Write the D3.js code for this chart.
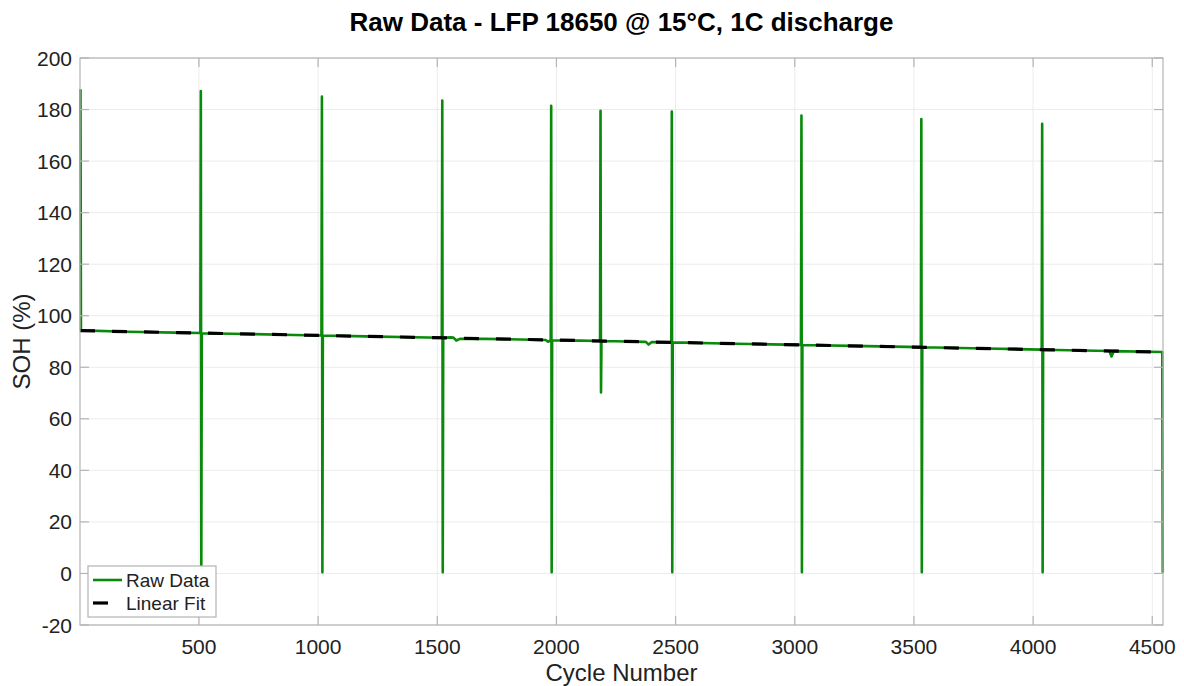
<!DOCTYPE html>
<html>
<head>
<meta charset="utf-8">
<script src="https://cdn.jsdelivr.net/npm/d3@7"></script>
<style>
  body { margin: 0; background: #fff; }
  svg { font-family: "Liberation Sans", Arial, Helvetica, sans-serif; }
</style>
</head>
<body>
<div id="chart"></div>
<script>
const rawCycle = [3, 5, 200, 400, 506, 508, 510, 512, 700, 900, 1014, 1016, 1018, 1020, 1200, 1400,
  1519, 1521, 1523, 1525, 1555, 1568, 1580, 1595, 1700, 1850, 1955, 1965, 1976, 1978, 1980, 1982,
  2100, 2183, 2185, 2187, 2189, 2300, 2375, 2387, 2400, 2482, 2484, 2486, 2488, 2700, 2900,
  3026, 3028, 3030, 3032, 3300, 3529, 3531, 3533, 3535, 3800, 4036, 4038, 4040, 4042,
  4320, 4329, 4338, 4542, 4544];
const rawSoh = [187.9, 94.3, 93.8, 93.45, 93.3, 187.2, 2.5, 93.2, 92.9, 92.55, 92.35, 185.0, 0.5, 92.3, 92.0, 91.65,
  91.45, 183.5, 0.5, 91.4, 91.6, 91.5, 90.4, 91.0, 91.0, 90.8, 90.6, 89.9, 90.5, 181.5, 0.5, 90.5,
  90.35, 90.2, 179.5, 70.2, 90.2, 90.0, 89.85, 88.8, 89.8, 89.7, 179.2, 0.5, 89.65, 89.25, 88.9,
  88.7, 177.7, 0.5, 88.65, 88.2, 87.8, 176.3, 0.5, 87.75, 87.3, 86.85, 174.5, 0.5, 86.8,
  86.3, 84.2, 86.25, 85.9, 0.3];

// linear fit end points
const fitCycle = [1, 4545];
const fitSoh = [94.2, 85.9];

const xTicks = [500, 1000, 1500, 2000, 2500, 3000, 3500, 4000, 4500];
const yTicks = [-20, 0, 20, 40, 60, 80, 100, 120, 140, 160, 180, 200];
const legendLabels = ['Raw Data', 'Linear Fit'];

const width = 1184, height = 686;
const margin = { top: 58, right: 21, bottom: 61, left: 80 };
const w = width - margin.left - margin.right;
const h = height - margin.top - margin.bottom;

const green = '#0a8a0a';
const boxColor = '#b4b4b4';
const gridColor = '#ececec';

const svg = d3.select('#chart').append('svg')
  .attr('width', width)
  .attr('height', height);

const g = svg.append('g')
  .attr('transform', `translate(${margin.left},${margin.top})`);

const x = d3.scaleLinear().domain([1, 4545]).range([0, w]);
const y = d3.scaleLinear().domain([-20, 200]).range([h, 0]);

// grid
g.append('g').selectAll('line').data(xTicks).enter().append('line')
  .attr('x1', d => x(d)).attr('x2', d => x(d))
  .attr('y1', 0).attr('y2', h)
  .attr('stroke', gridColor).attr('stroke-width', 1);
g.append('g').selectAll('line').data(yTicks).enter().append('line')
  .attr('x1', 0).attr('x2', w)
  .attr('y1', d => y(d)).attr('y2', d => y(d))
  .attr('stroke', gridColor).attr('stroke-width', 1);

g.append('clipPath').attr('id', 'clip')
  .append('rect').attr('x', -2).attr('y', 0).attr('width', w + 4).attr('height', h);

const plot = g.append('g').attr('clip-path', 'url(#clip)');

const raw = rawCycle.map((c, i) => [c, rawSoh[i]]);
const fit = fitCycle.map((c, i) => [c, fitSoh[i]]);

const line = d3.line().x(d => x(d[0])).y(d => y(d[1]));

plot.append('path')
  .datum(raw)
  .attr('d', line)
  .attr('fill', 'none')
  .attr('stroke', green)
  .attr('stroke-width', 2.6)
  .attr('stroke-linejoin', 'round');

plot.append('path')
  .datum(fit)
  .attr('d', line)
  .attr('fill', 'none')
  .attr('stroke', '#000')
  .attr('stroke-width', 3.2)
  .attr('stroke-dasharray', '15,17');

// box with inward ticks on all sides
const tickLen = 9;
const axisG = g.append('g').attr('stroke', boxColor).attr('stroke-width', 1.2);
axisG.append('rect').attr('x', 0).attr('y', 0).attr('width', w).attr('height', h)
  .attr('fill', 'none');
xTicks.forEach(t => {
  axisG.append('line').attr('x1', x(t)).attr('x2', x(t)).attr('y1', h).attr('y2', h - tickLen);
  axisG.append('line').attr('x1', x(t)).attr('x2', x(t)).attr('y1', 0).attr('y2', tickLen);
});
yTicks.forEach(t => {
  axisG.append('line').attr('x1', 0).attr('x2', tickLen).attr('y1', y(t)).attr('y2', y(t));
  axisG.append('line').attr('x1', w).attr('x2', w - tickLen).attr('y1', y(t)).attr('y2', y(t));
});

// tick labels
g.append('g').selectAll('text').data(xTicks).enter().append('text')
  .attr('x', d => x(d)).attr('y', h + 29)
  .attr('text-anchor', 'middle')
  .attr('font-size', 21).attr('fill', '#222')
  .text(d => d);
g.append('g').selectAll('text').data(yTicks).enter().append('text')
  .attr('x', -8).attr('y', d => y(d) + 7.5)
  .attr('text-anchor', 'end')
  .attr('font-size', 21).attr('fill', '#222')
  .text(d => d);

// labels
svg.append('text')
  .attr('x', margin.left + w / 2).attr('y', 31)
  .attr('text-anchor', 'middle')
  .attr('font-size', 26).attr('font-weight', 'bold').attr('fill', '#000')
  .text('Raw Data - LFP 18650 @ 15°C, 1C discharge');
svg.append('text')
  .attr('x', margin.left + w / 2).attr('y', 681)
  .attr('text-anchor', 'middle')
  .attr('font-size', 24).attr('fill', '#222')
  .text('Cycle Number');
svg.append('text')
  .attr('transform', `translate(30,${margin.top + h / 2}) rotate(-90)`)
  .attr('text-anchor', 'middle')
  .attr('font-size', 24).attr('fill', '#222')
  .text('SOH (%)');

// legend
const lg = svg.append('g').attr('transform', 'translate(88,566)');
lg.append('rect').attr('width', 128).attr('height', 51)
  .attr('fill', '#fff').attr('stroke', boxColor).attr('stroke-width', 1.2);
lg.append('line').attr('x1', 5).attr('x2', 34).attr('y1', 14).attr('y2', 14)
  .attr('stroke', green).attr('stroke-width', 2.6);
lg.append('line').attr('x1', 5).attr('x2', 20).attr('y1', 37).attr('y2', 37)
  .attr('stroke', '#000').attr('stroke-width', 3.2);
lg.selectAll('text.lab').data(legendLabels).enter().append('text')
  .attr('class', 'lab')
  .attr('x', 38).attr('y', (d, i) => 21 + i * 23)
  .attr('font-size', 19).attr('fill', '#222')
  .text(d => d);
</script>
</body>
</html>
